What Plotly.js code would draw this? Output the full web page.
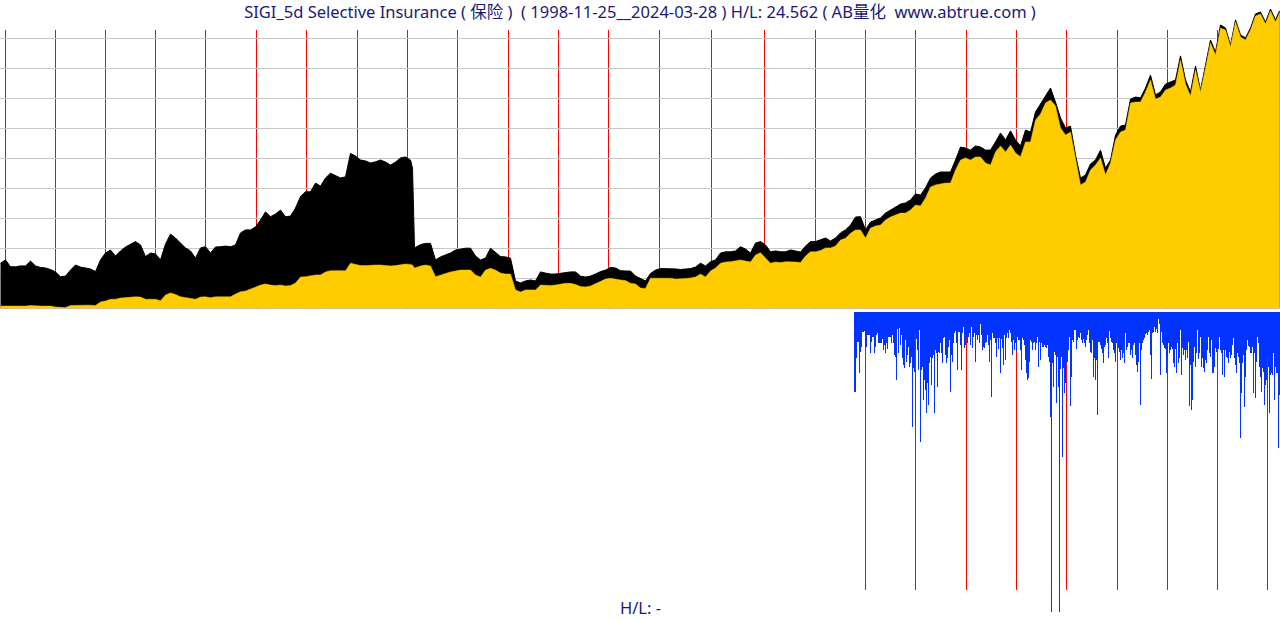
<!DOCTYPE html>
<html><head><meta charset="utf-8">
<script src="https://cdn.plot.ly/plotly-3.0.1.min.js"></script>
<style>html,body{margin:0;padding:0;background:#fff}#chart{width:1280px;height:620px}</style>
</head><body><div id="chart"></div>
<script>
// ---- data ----
// weekly (5-day) bar index, sampled
const barIndex = [0,5,10,15,20,25,30,35,40,45,50,55,60,65,70,75,80,85,90,95,100,105,110,115,120,125,130,135,140,145,150,155,160,165,170,175,180,185,190,195,200,205,210,215,220,225,230,235,240,245,250,255,260,265,270,275,280,285,290,295,300,305,310,315,320,325,330,335,340,345,350,355,360,365,370,375,380,385,390,395,400,405,410,412,414,
420,425,430,435,440,445,450,455,460,465,470,475,480,485,490,495,500,505,510,515,520,525,530,535,540,545,550,555,560,565,570,575,580,585,590,595,600,605,610,615,620,625,630,635,640,645,650,655,660,665,670,675,680,685,690,695,700,705,710,715,720,725,730,735,740,745,750,755,760,765,770,775,780,785,790,795,800,805,810,815,820,825,830,835,840,845,850,855,860,865,870,875,880,885,890,895,900,905,910,915,920,925,930,935,940,945,950,955,960,965,970,975,980,985,990,995,1000,1005,1010,1015,1020,1025,1030,1035,1040,1045,1050,1055,1060,1065,1070,1075,1080,1085,1090,1095,1100,1105,1110,1115,1120,1125,1130,1135,1140,1145,1150,1155,1160,1165,1170,1175,1180,1185,1190,1195,1200,1205,1210,1215,1220,1225,1230,1235,1240,1245,1250,1255,1260,1265,1270,1275,1279];

// upper series (black)
const highSeries = [15.1,16.2,13.9,13.9,14.2,14.2,15.8,14.2,13.7,13.5,
13.0,12.2,10.6,10.8,12.8,14.5,13.8,13.5,13.2,12.3,
16.2,18.5,19.5,17.5,19.2,20.5,21.5,22.3,21.2,17.3,
18.5,18.2,16.2,21.5,24.8,23.5,21.8,20.2,19.2,16.8,
20.2,20.6,18.5,20.5,20.6,20.8,20.6,21.2,25.2,26.2,
26.2,27.2,29.5,32.2,30.6,31.5,32.8,30.6,30.8,33.5,
37.3,38.9,38.9,41.8,40.8,43.5,45.1,44.2,43.5,43.9,
51.7,50.8,49.5,49.2,48.5,48.9,49.5,48.8,47.8,48.8,
50.2,50.5,49.5,
46.8,20.2,
21.3,21.7,21.7,16.2,17.2,17.8,18.5,19.5,19.8,20.1,
20.1,17.5,16.2,16.8,20.1,18.8,17.3,17.2,16.8,9.2,
8.5,9.2,9.5,9.2,12.2,11.8,11.5,11.5,11.8,12.0,
12.2,12.2,10.8,10.5,10.8,11.5,12.3,12.8,13.7,13.5,
12.6,12.5,12.5,10.8,10.1,9.2,11.7,12.8,13.3,13.3,
13.3,13.2,13.0,13.2,13.3,13.8,15.1,14.2,15.6,16.2,
18.5,18.9,18.9,19.2,20.6,19.8,18.5,21.8,22.3,21.2,
18.9,19.2,18.9,18.9,19.5,19.2,18.8,20.8,22.3,22.3,
22.8,23.5,22.5,23.5,25.2,26.2,27.8,30.5,30.6,26.2,
28.8,29.5,30.2,31.8,32.8,33.8,34.8,35.2,36.2,38.2,
37.8,40.2,43.5,44.8,45.5,45.5,45.5,49.5,53.8,53.5,
52.8,54.2,53.8,52.8,52.8,55.5,58.5,56.2,59.2,56.2,
54.2,59.5,58.8,65.5,68.2,71.2,73.5,68.8,63.5,60.2,
60.8,51.2,43.5,44.5,48.2,49.5,52.8,46.8,49.5,57.8,
60.8,61.2,69.8,70.5,70.2,73.5,77.8,71.2,72.2,74.8,
75.5,76.2,84.2,76.2,72.2,80.8,72.8,81.2,89.5,85.5,
94.5,93.5,87.8,96.2,91.2,90.2,93.5,98.2,98.8,95.5,
99.8,96.2,
99.2];

// lower series (yellow)
const lowSeries = [0.8,0.8,0.8,0.8,0.7,0.8,1.0,0.8,0.8,0.8,
0.8,0.5,0.3,0.3,1.0,1.1,1.1,1.1,1.1,1.0,
2.2,2.5,3.1,3.1,3.5,3.6,3.9,3.9,3.8,3.1,
3.1,3.1,2.6,4.5,5.2,4.7,3.9,3.6,3.2,3.1,
3.8,3.9,3.6,3.9,3.9,3.9,3.9,4.8,5.6,5.8,
6.5,7.3,7.8,8.2,7.8,7.7,7.8,7.5,7.7,8.5,
10.5,10.6,11.0,11.2,11.2,12.2,12.6,12.6,12.6,12.6,
15.1,14.7,14.3,14.3,14.5,14.5,14.5,14.3,14.2,14.3,
14.5,14.8,14.7,
14.5,13.5,
14.2,14.5,14.2,10.6,11.2,11.8,12.2,12.5,12.8,12.8,
12.8,11.2,10.5,12.8,13.4,12.8,11.8,11.5,11.5,6.2,
5.5,6.2,6.2,6.2,7.8,7.7,7.7,7.8,8.2,8.4,
8.4,8.0,7.3,7.2,7.5,8.2,8.9,9.8,10.1,9.7,
9.5,9.3,8.4,8.2,6.8,6.7,10.1,10.1,10.1,10.0,
10.1,9.8,9.8,10.0,10.2,10.5,11.5,10.5,12.5,13.5,
15.1,15.5,15.6,15.8,16.2,15.8,15.5,17.8,18.6,16.8,
15.1,15.5,15.3,15.6,15.6,15.5,15.3,17.5,18.9,18.9,
19.3,20.2,20.2,20.8,22.8,23.4,25.1,26.2,26.2,23.5,
26.8,27.5,27.8,29.5,30.5,31.2,31.8,31.8,32.8,34.5,
34.2,36.8,40.5,41.2,41.5,41.8,41.8,46.2,49.5,50.2,
49.5,50.5,50.5,48.5,47.8,52.2,54.2,52.2,54.5,51.8,
50.6,55.5,55.5,62.8,64.8,68.5,69.5,67.5,60.2,57.8,
58.8,49.5,41.2,42.2,46.2,47.8,50.2,44.5,48.5,56.2,
58.8,59.5,68.5,68.8,68.8,72.2,76.2,69.8,70.5,72.8,
73.5,74.5,82.8,74.8,70.8,79.5,72.2,80.2,88.5,84.5,
93.5,92.8,87.2,95.5,90.5,89.5,92.8,97.5,98.2,94.8,
99.2,95.5,
98.5];

// year start bar indices
const yearLabels = ['1999','2000','2001','2002','2003','2004','2005','2006','2007','2008','2009','2010','2011','2012','2013','2014','2015','2016','2017','2018','2019','2020','2021','2022','2023','2024'];
const yearIndex = [5,55,105,155,205,256,306,357,407,457,508,558,608,659,711,764,815,865,915,966,1016,1066,1117,1167,1217,1267];

// lower panel indicator (one value per bar, starting at bar blueStart)
const blueStart = 854;
const blueValues = [239,239,139,89,89,182,119,104,59,59,
56,104,104,69,69,69,124,89,74,74,
124,104,69,64,94,94,94,94,82,114,
99,124,94,112,74,74,74,94,69,94,
129,134,204,52,122,49,99,69,139,159,
169,84,149,129,106,164,154,134,344,169,
179,64,82,114,174,54,389,174,164,264,
204,234,304,214,279,154,134,219,139,129,
304,114,124,224,119,122,94,124,154,79,
76,129,154,139,104,84,239,129,149,94,
64,56,94,174,59,59,99,174,64,44,
109,99,74,94,74,64,99,44,109,74,
64,149,69,84,69,94,36,69,114,104,
109,94,89,69,99,149,84,254,64,79,
79,94,134,79,112,79,184,82,109,159,
69,144,79,64,79,54,64,89,129,84,
114,94,119,74,84,84,114,174,79,84,
99,144,182,204,199,149,84,89,114,94,
89,114,94,76,164,89,144,94,104,104,
99,104,109,99,134,149,314,900,154,224,
119,129,274,134,224,900,171,134,435,169,
244,214,154,149,114,74,282,194,84,89,
54,54,112,84,74,79,64,84,94,82,
94,104,84,69,54,94,119,124,84,194,
139,204,144,309,89,89,99,112,124,154,
104,99,79,94,139,56,79,89,94,114,
124,149,94,69,109,119,144,114,139,124,
154,64,114,104,94,94,129,114,139,99,
94,129,159,179,149,94,279,114,94,84,
79,67,64,69,59,54,129,200,64,59,
46,59,52,62,22,36,189,59,94,99,
109,112,184,139,94,124,114,104,112,154,
164,112,182,94,154,139,54,189,109,129,
114,144,114,139,89,282,159,294,264,149,
104,164,124,54,142,124,74,164,139,169,
179,144,154,114,74,124,134,84,184,184,
164,109,119,109,112,74,114,124,189,114,
194,114,134,139,154,119,139,129,99,79,
139,159,184,124,134,154,379,244,154,129,
284,194,114,84,102,104,124,124,104,244,
124,259,149,74,94,164,194,239,169,179,
279,219,204,139,164,304,189,184,189,124,
264,164,184,184,409,249];

const gridValues = [10,20,30,40,50,60,70,80,90];
const titleText = 'SIGI_5d Selective Insurance ( 保险 ) &nbsp;( 1998-11-25__2024-03-28 ) H/L: 24.562 ( AB量化&nbsp;&nbsp;www.abtrue.com )';
const footText = 'H/L: -';

// ---- chart ----
const H = 620;
const topBase = 308.5, topLineTop = 30, pxPerUnit = 3;
const topMax = topBase / pxPerUnit;
const lineTopVal = (topBase - topLineTop) / pxPerUnit;
const botTop = 312, botLineEnd = 590, botUnitsPerPx = 3;
const botRange = (H - botTop) * botUnitsPerPx;

const blueX = blueValues.map((v, i) => blueStart + i);

const traces = [
  {type:'scatter', mode:'lines', x:barIndex, y:highSeries, fill:'tozeroy',
   fillcolor:'#000000', line:{color:'#000000', width:1}, xaxis:'x', yaxis:'y', hoverinfo:'skip'},
  {type:'scatter', mode:'lines', x:barIndex, y:lowSeries, fill:'tozeroy',
   fillcolor:'#FFCC00', line:{color:'#FFCC00', width:0.5}, xaxis:'x', yaxis:'y', hoverinfo:'skip'},
  {type:'bar', x:blueX, y:blueValues, base:0, width:1, marker:{color:'#0033FF', line:{width:0}},
   xaxis:'x2', yaxis:'y2', hoverinfo:'skip'}
];

const shapes = [];
yearIndex.forEach(ix => {
  shapes.push({type:'line', xref:'x', yref:'y', x0:ix, x1:ix, y0:0, y1:lineTopVal,
    line:{color:'#FF0000', width:1}, layer:'below'});
  if (ix >= blueStart) {
    shapes.push({type:'line', xref:'x2', yref:'y2', x0:ix, x1:ix, y0:0, y1:(botLineEnd - botTop) * botUnitsPerPx,
      line:{color:'#FF0000', width:1}, layer:'below'});
  }
});

const textFont = {family:'"Noto Sans", "Noto Sans CJK SC", sans-serif', size:16.5, color:'#1a1a73'};

const layout = {
  width:1280, height:H,
  margin:{l:0, r:0, t:0, b:0, pad:0},
  paper_bgcolor:'#ffffff', plot_bgcolor:'rgba(0,0,0,0)',
  showlegend:false, bargap:0,
  title:{text:titleText, x:0.5, xanchor:'center', xref:'paper', y:1 - 12/H, yanchor:'middle', yref:'container',
    font:textFont},
  xaxis:{domain:[0,1], range:[-0.5,1279.5], visible:false, fixedrange:true},
  yaxis:{domain:[(H - topBase)/H, 1], range:[0, topMax], tickmode:'array', tickvals:gridValues,
    showticklabels:false, ticks:'', showgrid:true, gridcolor:'#c8c8c8', gridwidth:1,
    zeroline:false, showline:false, fixedrange:true},
  xaxis2:{anchor:'y2', domain:[0,1], range:[-0.5,1279.5], visible:false, fixedrange:true},
  yaxis2:{anchor:'x2', domain:[0, (H - botTop)/H], range:[botRange, 0], visible:false, fixedrange:true},
  shapes:shapes,
  annotations:[{text:footText, xref:'paper', yref:'paper', x:0.5, xanchor:'center', y:(H - 607)/H, yanchor:'middle',
    showarrow:false, font:textFont}]
};

Plotly.newPlot('chart', traces, layout, {staticPlot:true, displayModeBar:false});
</script></body></html>
